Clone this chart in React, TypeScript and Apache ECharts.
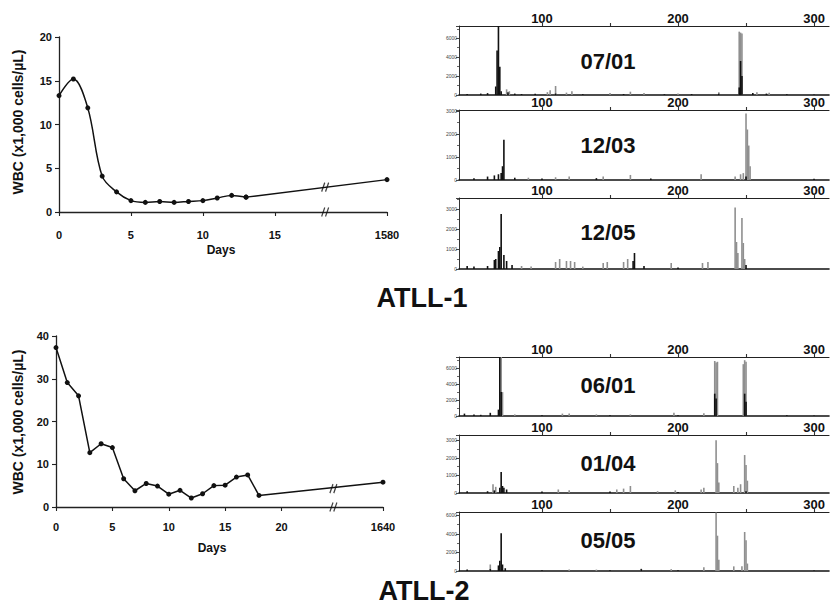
import React, { useEffect, useRef } from 'react';
import * as echarts from 'echarts';

const FONT = '"Liberation Sans", Arial, Helvetica, sans-serif';

// ---------- ATLL-1 WBC course ----------
const atll1Days = [0, 1, 2, 3, 4, 5, 6, 7, 8, 9, 10, 11, 12, 13];
const atll1Wbc = [13.3, 15.2, 11.9, 4.1, 2.3, 1.3, 1.1, 1.2, 1.1, 1.2, 1.3, 1.6, 1.9, 1.7];
const atll1LastPos = 22.8; // axis position used for day 1580 (after break)
const atll1LastLabel = '1580';
const atll1LastWbc = 3.7;
const atll1BreakPos = 18.5;
const atll1BreakWbc = 2.85;
const atll1XTicks = [0, 5, 10, 15];
const atll1YMax = 20;

// ---------- ATLL-2 WBC course ----------
const atll2Days = [0, 1, 2, 3, 4, 5, 6, 7, 8, 9, 10, 11, 12, 13, 14, 15, 16, 17, 18];
const atll2Wbc = [37.3, 29.1, 26.0, 12.7, 14.8, 13.9, 6.6, 3.8, 5.5, 4.9, 3.0, 3.9, 2.1, 3.1, 5.0, 5.1, 7.0, 7.5, 2.7];
const atll2LastPos = 29.0; // axis position used for day 1640 (after break)
const atll2LastLabel = '1640';
const atll2LastWbc = 5.8;
const atll2BreakPos = 24.6;
const atll2BreakWbc = 4.3;
const atll2XTicks = [0, 5, 10, 15, 20];
const atll2YMax = 40;

// ---------- GeneScan panels ----------
const panelLabels = ['07/01', '12/03', '12/05', '06/01', '01/04', '05/05'];
const panelYMax = [7300, 3050, 3550, 7400, 3300, 6350];
const panelYInterval = [2000, 1000, 1000, 2000, 1000, 2000];
const sizeMin = 39;
const sizeMax = 311;
const sizeLabels = [100, 200, 300];
const sizeTicks = [100, 150, 200, 250, 300];

const black0 = [[45, 100], [55, 150], [60, 200], [66, 900], [67, 4700], [68, 7300], [69, 3000], [70, 400], [75, 300], [80, 150], [85, 100], [95, 120], [110, 150], [130, 80], [160, 100], [190, 80], [210, 100], [230, 120], [245, 800], [246, 3600], [247, 2000], [255, 200], [265, 150], [280, 80], [300, 60]];
const gray0 = [[74, 600], [76, 400], [104, 300], [106, 500], [110, 950], [118, 250], [122, 400], [150, 200], [165, 350], [175, 200], [200, 150], [230, 300], [245, 6700], [246, 6600], [247, 6500], [258, 300], [267, 250]];

const black1 = [[50, 80], [60, 150], [65, 200], [68, 250], [70, 300], [71, 600], [72, 1750], [80, 100], [100, 70], [140, 80], [180, 60], [250, 150], [300, 50]];
const gray1 = [[90, 100], [110, 120], [120, 150], [145, 150], [165, 220], [217, 250], [242, 150], [246, 250], [248, 300], [250, 2900], [251, 2200], [252, 1500], [253, 600]];

const black2 = [[45, 150], [50, 120], [60, 150], [65, 450], [66, 500], [68, 900], [69, 1100], [70, 2750], [72, 700], [74, 400], [78, 200], [167, 400], [168, 800], [175, 150], [200, 80], [250, 200]];
const gray2 = [[85, 150], [92, 120], [110, 350], [113, 500], [118, 400], [121, 400], [124, 350], [130, 120], [145, 300], [148, 350], [160, 350], [163, 500], [195, 300], [218, 300], [222, 350], [242, 3080], [243, 1350], [244, 800], [247, 2550], [248, 1300], [249, 500]];

const black3 = [[43, 300], [50, 200], [55, 150], [62, 400], [68, 800], [69, 7400], [70, 3000], [100, 100], [150, 100], [200, 100], [227, 2800], [228, 2200], [249, 2800], [250, 1800], [280, 80], [300, 60]];
const gray3 = [[70, 7400], [71, 3000], [80, 200], [115, 300], [120, 300], [140, 200], [165, 200], [197, 400], [219, 350], [227, 6900], [228, 6700], [229, 6800], [248, 6500], [249, 7000], [250, 6800]];

const black4 = [[45, 100], [60, 100], [65, 150], [69, 300], [70, 1200], [71, 400], [72, 300], [74, 200], [100, 80], [150, 80], [200, 60], [250, 100]];
const gray4 = [[64, 500], [66, 350], [112, 200], [120, 150], [155, 200], [160, 250], [165, 400], [185, 100], [198, 150], [217, 200], [219, 300], [228, 3000], [229, 1700], [230, 600], [241, 400], [244, 300], [246, 500], [249, 2160], [250, 1600], [251, 700]];

const black5 = [[45, 150], [62, 200], [68, 600], [69, 1100], [70, 4050], [71, 700], [73, 300], [100, 80], [150, 80], [173, 200], [200, 80], [300, 50]];
const gray5 = [[62, 700], [120, 150], [140, 150], [173, 250], [195, 200], [219, 400], [228, 6300], [229, 3800], [230, 1200], [241, 500], [247, 500], [249, 4200], [250, 3300], [251, 800]];

const panelBlack = [black0, black1, black2, black3, black4, black5];
const panelGray = [gray0, gray1, gray2, gray3, gray4, gray5];

// layout (pixels)
const chartGrids = [
  { left: 59, top: 37, width: 328, height: 175 },
  { left: 56, top: 336, width: 327, height: 171 },
];
const panelLeft = 459;
const panelWidth = 370;
const panelTops = [26, 110, 198, 357, 435, 512];
const panelHeights = [69, 70, 71, 59, 58, 59];
const panelTextY = [61, 145, 232, 385, 463, 540];

const breakSymbol = 'path://M0,10 L4,0 M5,10 L9,0';

function textStyle(size: number) {
  return { fontFamily: FONT, fontWeight: 'bold', fontSize: size, fill: '#111', align: 'center', verticalAlign: 'middle' };
}

function buildOption() {
  const grids: any[] = chartGrids.map((g) => ({ ...g, outerBoundsMode: 'none' }));
  const axisText = { fontFamily: FONT, fontWeight: 'bold', fontSize: 11, color: '#111' };
  const xAxes: any[] = [
    {
      type: 'value', gridIndex: 0, min: 0, max: atll1LastPos,
      axisLine: { show: true, onZero: false, lineStyle: { color: '#222', width: 1.3 } },
      axisTick: { show: true, length: 4, customValues: [...atll1XTicks, atll1LastPos], lineStyle: { color: '#222', width: 1.1 } },
      axisLabel: {
        ...axisText, margin: 17, customValues: [...atll1XTicks, atll1LastPos],
        formatter: (v: number) => (v === atll1LastPos ? atll1LastLabel : String(v)),
      },
      splitLine: { show: false },
    },
    {
      type: 'value', gridIndex: 1, min: 0, max: atll2LastPos,
      axisLine: { show: true, onZero: false, lineStyle: { color: '#222', width: 1.3 } },
      axisTick: { show: true, length: 4, customValues: [...atll2XTicks, atll2LastPos], lineStyle: { color: '#222', width: 1.1 } },
      axisLabel: {
        ...axisText, margin: 14, customValues: [...atll2XTicks, atll2LastPos],
        formatter: (v: number) => (v === atll2LastPos ? atll2LastLabel : String(v)),
      },
      splitLine: { show: false },
    },
  ];
  const yAxes: any[] = [
    {
      type: 'value', gridIndex: 0, min: 0, max: atll1YMax, interval: 5,
      axisLine: { show: true, lineStyle: { color: '#222', width: 1.3 } },
      axisTick: { show: true, length: 4, lineStyle: { color: '#222', width: 1.1 } },
      axisLabel: { ...axisText, margin: 7, formatter: (v: number) => String(v) },
      splitLine: { show: false },
    },
    {
      type: 'value', gridIndex: 1, min: 0, max: atll2YMax, interval: 10,
      axisLine: { show: true, lineStyle: { color: '#222', width: 1.3 } },
      axisTick: { show: true, length: 4, lineStyle: { color: '#222', width: 1.1 } },
      axisLabel: { ...axisText, margin: 7, formatter: (v: number) => String(v) },
      splitLine: { show: false },
    },
  ];

  const lineStyle = { color: '#111', width: 1.5 };
  const itemStyle = { color: '#111' };
  const series: any[] = [
    {
      type: 'line', xAxisIndex: 0, yAxisIndex: 0, smooth: 0.35,
      data: atll1Days.map((d, i) => [d, atll1Wbc[i]]),
      symbol: 'circle', symbolSize: 5, lineStyle, itemStyle, silent: true,
    },
    {
      type: 'line', xAxisIndex: 0, yAxisIndex: 0,
      data: [[atll1Days[atll1Days.length - 1], atll1Wbc[atll1Wbc.length - 1]], [atll1LastPos, atll1LastWbc]],
      symbol: 'circle', symbolSize: 5, lineStyle, itemStyle, silent: true,
    },
    {
      type: 'line', xAxisIndex: 1, yAxisIndex: 1,
      data: [...atll2Days.map((d, i) => [d, atll2Wbc[i]]), [atll2LastPos, atll2LastWbc]],
      symbol: 'circle', symbolSize: 5, lineStyle, itemStyle, silent: true,
    },
    {
      type: 'scatter', xAxisIndex: 0, yAxisIndex: 0, silent: true,
      data: [[atll1BreakPos, atll1BreakWbc], [atll1BreakPos, 0]],
      symbol: breakSymbol, symbolSize: [7, 9],
      itemStyle: { color: 'transparent', borderColor: '#111', borderWidth: 1.4 },
      z: 5,
    },
    {
      type: 'scatter', xAxisIndex: 1, yAxisIndex: 1, silent: true,
      data: [[atll2BreakPos, atll2BreakWbc], [atll2BreakPos, 0]],
      symbol: breakSymbol, symbolSize: [7, 9],
      itemStyle: { color: 'transparent', borderColor: '#111', borderWidth: 1.4 },
      z: 5,
    },
  ];

  panelLabels.forEach((_, i) => {
    const g = 2 + i;
    grids.push({ left: panelLeft, top: panelTops[i], width: panelWidth, height: panelHeights[i], outerBoundsMode: 'none' });
    // top size-scale axis (labelled)
    xAxes.push({
      type: 'value', gridIndex: g, position: 'top', min: sizeMin, max: sizeMax,
      axisLine: { show: true, onZero: false, lineStyle: { color: '#222', width: 1.1 } },
      axisTick: { show: true, length: 3, customValues: sizeTicks, lineStyle: { color: '#333', width: 1.1 } },
      axisLabel: { customValues: sizeLabels, fontFamily: FONT, fontWeight: 'bold', fontSize: 13, color: '#111', margin: 1 },
      splitLine: { show: false },
    });
    // bottom baseline
    xAxes.push({
      type: 'value', gridIndex: g, position: 'bottom', min: sizeMin, max: sizeMax,
      axisLine: { show: true, onZero: false, lineStyle: { color: '#111', width: 1.6 } },
      axisTick: { show: false }, axisLabel: { show: false }, splitLine: { show: false },
    });
    yAxes.push({
      type: 'value', gridIndex: g, min: 0, max: panelYMax[i], interval: panelYInterval[i],
      axisLine: { show: true, lineStyle: { color: '#333', width: 1 } },
      axisTick: { show: true, length: 3, lineStyle: { color: '#444' } },
      minorTick: { show: true, splitNumber: 2, length: 2, lineStyle: { color: '#666' } },
      axisLabel: { fontFamily: FONT, fontSize: 5, color: '#444', margin: 2, showMaxLabel: false, formatter: (v: number) => String(v) },
      splitLine: { show: false },
    });
    series.push({
      type: 'bar', xAxisIndex: 2 + 2 * i, yAxisIndex: g, data: panelGray[i],
      barWidth: 1.6, barGap: '-100%', itemStyle: { color: '#8f8f8f' }, silent: true,
    });
    series.push({
      type: 'bar', xAxisIndex: 2 + 2 * i, yAxisIndex: g, data: panelBlack[i],
      barWidth: 1.6, barGap: '-100%', itemStyle: { color: '#111' }, silent: true,
    });
  });

  const graphics: any[] = [
    { type: 'text', x: 18, y: 122, rotation: Math.PI / 2, style: { text: 'WBC (x1,000 cells/µL)', ...textStyle(14) } },
    { type: 'text', x: 18, y: 422, rotation: Math.PI / 2, style: { text: 'WBC (x1,000 cells/µL)', ...textStyle(14) } },
    { type: 'text', x: 221, y: 250, style: { text: 'Days', ...textStyle(12) } },
    { type: 'text', x: 212, y: 548, style: { text: 'Days', ...textStyle(12) } },
    { type: 'text', x: 422, y: 298, style: { text: 'ATLL-1', ...textStyle(27) } },
    { type: 'text', x: 424, y: 591, style: { text: 'ATLL-2', ...textStyle(27) } },
  ];
  panelLabels.forEach((lab, i) => {
    graphics.push({ type: 'text', x: 608, y: panelTextY[i], style: { text: lab, ...textStyle(22) } });
  });

  return {
    animation: false,
    backgroundColor: '#fff',
    grid: grids,
    xAxis: xAxes,
    yAxis: yAxes,
    series,
    graphic: graphics,
  };
}

export default function App() {
  const ref = useRef<HTMLDivElement>(null);
  useEffect(() => {
    if (!ref.current) return;
    const chart = echarts.init(ref.current, null, { renderer: 'svg' });
    chart.setOption(buildOption());
    return () => chart.dispose();
  }, []);
  return (
    <div
      ref={ref}
      style={{ position: 'fixed', left: 0, top: 0, width: 831, height: 606, background: '#fff' }}
    />
  );
}
